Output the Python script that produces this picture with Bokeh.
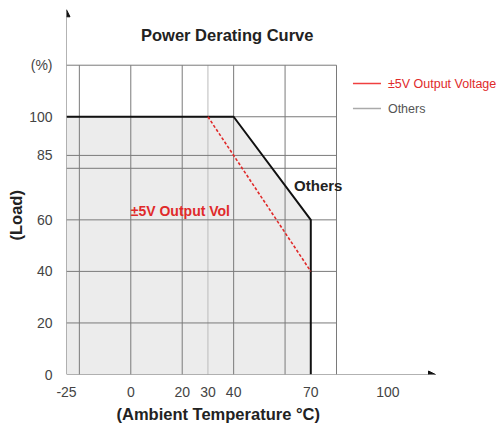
from bokeh.plotting import figure
from bokeh.models import Range1d, FixedTicker, Arrow, NormalHead, Title
from bokeh.core.properties import value
from bokeh.embed import file_html
from bokeh.resources import INLINE

# ---- data ----
x_ticks = [-25, 0, 20, 30, 40, 70, 100]
x_tick_labels = {-25: "-25"}
y_ticks = [0, 20, 40, 60, 85, 100, 120]
y_tick_labels = {120: "(%)"}
grid_x = [-20, 0, 20, 40, 60, 80]
grid_x_light = [30]
grid_y = [20, 40, 60, 80, 85, 100, 120]
others_x = [-25, 40, 70, 70]
others_y = [100, 100, 60, 0]
v5_x = [30, 70]
v5_y = [100, 40]

FONT = "Liberation Sans"

p = figure(frame_width=432, frame_height=366, output_backend="svg", toolbar_location=None,
           x_range=Range1d(-25, 143), y_range=Range1d(0, 142),
           min_border_left=66, min_border_right=0, min_border_top=8, min_border_bottom=59)
p.outline_line_color = None
p.xgrid.grid_line_color = None
p.ygrid.grid_line_color = None
p.background_fill_color = "white"
p.border_fill_color = "white"

for ax in (p.xaxis[0], p.yaxis[0]):
    ax.axis_line_color = None
    ax.major_tick_line_color = None
    ax.minor_tick_line_color = None
    ax.major_label_text_font = FONT
    ax.major_label_text_font_size = "14px"
    ax.major_label_text_color = "#444444"
    ax.major_label_standoff = 8
p.xaxis.ticker = FixedTicker(ticks=x_ticks)
p.xaxis.major_label_overrides = x_tick_labels
p.yaxis.ticker = FixedTicker(ticks=y_ticks)
p.yaxis.major_label_overrides = y_tick_labels
p.xaxis.major_label_standoff = 6

# axis titles
p.add_layout(Title(text="(Ambient Temperature °C)", align="left", offset=50,
                   text_font=FONT, text_font_size="16.5px", text_font_style="bold",
                   text_color="#222222", standoff=7), "below")
p.add_layout(Title(text="(Load)", align="left", offset=134,
                   text_font=FONT, text_font_size="16.5px", text_font_style="bold",
                   text_color="#222222", standoff=4), "left")

# shaded area under "Others" curve
p.patch([others_x[0]] + others_x, [0] + others_y, fill_color="#ececec", line_color=None)

# grid
x_min, x_max, y_max = -25, 80, 120
p.segment(x0=grid_x, y0=[0] * len(grid_x), x1=grid_x, y1=[y_max] * len(grid_x),
          line_color="#7a7a7a", line_width=1)
p.segment(x0=grid_x_light, y0=[0], x1=grid_x_light, y1=[y_max], line_color="#bbbbbb", line_width=1)
p.segment(x0=[x_min] * len(grid_y), y0=grid_y, x1=[x_max] * len(grid_y), y1=grid_y,
          line_color="#7a7a7a", line_width=1)

# curves
p.line(others_x, others_y, line_color="#111111", line_width=2)
p.line(v5_x, v5_y, line_color="#e02a2a", line_width=1.6, line_dash="3 2")

# axes arrows
p.add_layout(Arrow(end=NormalHead(size=7, fill_color="#111111", line_color="#111111"),
                   x_start=-25, y_start=0, x_end=-25, y_end=141.5, line_color="#666666", line_width=1))
p.add_layout(Arrow(end=NormalHead(size=7, fill_color="#111111", line_color="#111111"),
                   x_start=-25, y_start=0, x_end=118.5, y_end=0, line_color="#666666", line_width=1))

# texts
p.text(x=[37.5], y=[131.6], text=["Power Derating Curve"], text_font=value(FONT),
       text_font_size="16.5px", text_font_style="bold", text_color="#222222",
       text_align="center", text_baseline="middle")
p.text(x=[0], y=[63.5], text=["±5V Output Vol"], text_font=value(FONT),
       text_font_size="14px", text_font_style="bold", text_color="#e02a2a",
       text_align="left", text_baseline="middle")
p.text(x=[63.5], y=[73.4], text=["Others"], text_font=value(FONT),
       text_font_size="15px", text_font_style="bold", text_color="#222222",
       text_align="left", text_baseline="middle")

# legend (manual)
p.segment(x0=[86.4], y0=[112.9], x1=[97.3], y1=[112.9], line_color="#f04040", line_width=1.5)
p.segment(x0=[86.4], y0=[103.2], x1=[97.3], y1=[103.2], line_color="#aaaaaa", line_width=1.5)
p.text(x=[100], y=[112.9], text=["±5V Output Voltage"], text_font=value(FONT),
       text_font_size="12.5px", text_color="#e02a2a", text_align="left", text_baseline="middle")
p.text(x=[100], y=[103.2], text=["Others"], text_font=value(FONT),
       text_font_size="12.5px", text_color="#555555", text_align="left", text_baseline="middle")

open("out.html", "w").write(file_html(p, INLINE))
